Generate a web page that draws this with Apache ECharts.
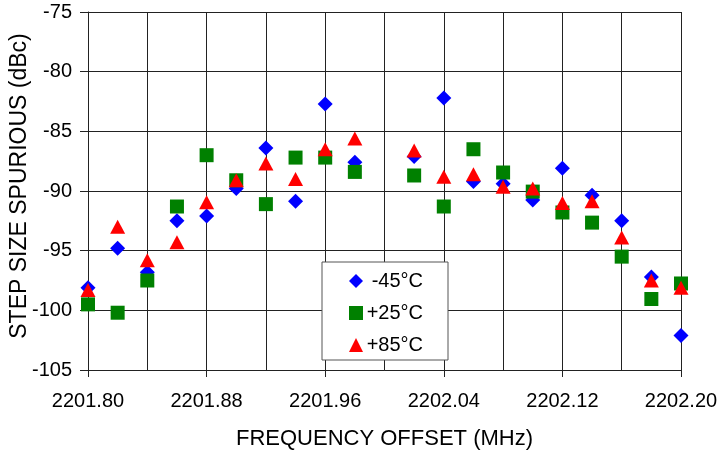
<!DOCTYPE html>
<html>
<head>
<meta charset="utf-8">
<script src="https://cdn.jsdelivr.net/npm/echarts@6/dist/echarts.min.js"></script>
<style>
  html, body { margin: 0; padding: 0; background: #fff; }
  #chart { width: 722px; height: 451px; }
</style>
</head>
<body>
<div id="chart"></div>
<script>
// Measurement frequencies (MHz); no reading was taken at 2202.00
const frequencies = [2201.80, 2201.82, 2201.84, 2201.86, 2201.88, 2201.90, 2201.92, 2201.94, 2201.96, 2201.98,
                     2202.02, 2202.04, 2202.06, 2202.08, 2202.10, 2202.12, 2202.14, 2202.16, 2202.18, 2202.20];

// Step size spurious level (dBc) per temperature
const spurMinus45 = [-98.1, -94.8, -96.8, -92.5, -92.1, -89.8, -86.4, -90.85, -82.7, -87.6,
                     -87.1, -82.2, -89.2, -89.4, -90.75, -88.1, -90.35, -92.5, -97.2, -102.1];
const spurPlus25  = [-99.5, -100.2, -97.5, -91.3, -87.0, -89.1, -91.1, -87.2, -87.2, -88.4,
                     -88.7, -91.3, -86.5, -88.45, -90.05, -91.8, -92.65, -95.5, -99.05, -97.75];
const spurPlus85  = [-98.3, -93.0, -95.8, -94.3, -90.95, -89.1, -87.7, -89.0, -86.5, -85.6,
                     -86.6, -88.8, -88.6, -89.65, -89.8, -91.0, -90.85, -93.9, -97.5, -98.1];

const seriesNames = ['-45°C', '+25°C', '+85°C'];

// Axis ranges / ticks
const xStart = 2201.80, xEnd = 2202.20, xStep = 0.08;
const yMin = -105, yMax = -75, yStep = 5;

// The x axis runs on offsets from xStart so tick steps land exactly on labelled values
const toOffset = f => Math.round((f - xStart) * 1000) / 1000;
const pairs = vals => frequencies.map((f, i) => [toOffset(f), vals[i]]);

const FONT = '"Liberation Sans", Arial, Helvetica, sans-serif';
const LINE = '#222';

const chart = echarts.init(document.getElementById('chart'), null, { renderer: 'canvas' });

chart.setOption({
  animation: false,
  backgroundColor: '#fff',
  grid: { left: 88, right: 41, top: 12, bottom: 81, containLabel: false, outerBoundsMode: 'none' },
  xAxis: {
    type: 'value',
    min: 0,
    max: toOffset(xEnd),
    interval: xStep,
    name: 'FREQUENCY OFFSET (MHz)',
    nameLocation: 'middle',
    nameGap: 58,
    nameMoveOverlap: false,
    nameTextStyle: { fontFamily: FONT, fontSize: 22, color: '#000' },
    axisLine: { show: true, onZero: false, lineStyle: { color: LINE, width: 1 } },
    axisTick: { show: true, inside: false, length: 7, lineStyle: { color: LINE } },
    minorTick: { show: false, splitNumber: 2 },
    minorSplitLine: { show: true, lineStyle: { color: LINE, width: 1 } },
    splitLine: { show: true, lineStyle: { color: LINE, width: 1 } },
    axisLabel: {
      fontFamily: FONT, fontSize: 20, color: '#000', margin: 21,
      formatter: v => (xStart + v).toFixed(2)
    }
  },
  yAxis: {
    type: 'value',
    min: yMin,
    max: yMax,
    interval: yStep,
    name: 'STEP SIZE SPURIOUS (dBc)',
    nameLocation: 'middle',
    nameGap: 57,
    nameMoveOverlap: false,
    nameTextStyle: { fontFamily: FONT, fontSize: 23, color: '#000', padding: [0, 0, 0, 10] },
    axisLine: { show: true, onZero: false, lineStyle: { color: LINE, width: 1 } },
    axisTick: { show: true, inside: false, length: 8, lineStyle: { color: LINE } },
    splitLine: { show: true, lineStyle: { color: LINE, width: 1 } },
    axisLabel: { fontFamily: FONT, fontSize: 20, color: '#000', margin: 16 }
  },
  legend: {
    orient: 'vertical',
    left: 322,
    top: 262,
    padding: [9, 25, 5, 27],
    itemGap: 12,
    itemWidth: 14,
    itemHeight: 14,
    backgroundColor: '#fff',
    borderColor: '#555',
    borderWidth: 1,
    borderRadius: 0,
    data: [
      { name: seriesNames[0], icon: 'diamond' },
      { name: seriesNames[1], icon: 'rect' },
      { name: seriesNames[2], icon: 'triangle' }
    ],
    formatter: '{t|{name}}',
    textStyle: {
      fontFamily: FONT, fontSize: 20, color: '#000',
      rich: { t: { width: 55, align: 'right', fontFamily: FONT, fontSize: 20 } }
    }
  },
  series: [
    {
      name: seriesNames[0], type: 'scatter', symbol: 'diamond', symbolSize: 15,
      itemStyle: { color: '#0000FF', opacity: 1 },
      data: pairs(spurMinus45)
    },
    {
      name: seriesNames[1], type: 'scatter', symbol: 'rect', symbolSize: 14,
      itemStyle: { color: '#008000', opacity: 1 },
      data: pairs(spurPlus25)
    },
    {
      name: seriesNames[2], type: 'scatter', symbol: 'triangle', symbolSize: [15, 14],
      itemStyle: { color: '#FF0000', opacity: 1 },
      data: pairs(spurPlus85)
    }
  ]
});
</script>
</body>
</html>
